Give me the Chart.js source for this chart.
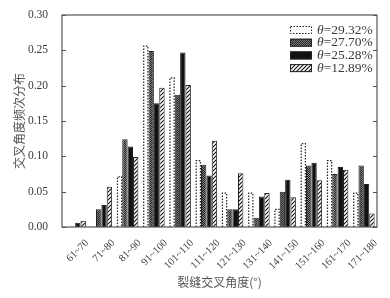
<!DOCTYPE html>
<html>
<head>
<meta charset="utf-8">
<script src="https://cdn.jsdelivr.net/npm/chart.js@4"></script>
<style>
  body { margin: 0; background: #fff; }
  canvas { display: block; }
</style>
</head>
<body>
<canvas id="grafico" width="390" height="298"></canvas>
<script>
// Datos
const categorias = ['61~70', '71~80', '81~90', '91~100', '101~110', '111~120',
                    '121~130', '131~140', '141~150', '151~160', '161~170', '171~180'];
const leyendas = ['29.32%', '27.70%', '25.28%', '12.89%'];
const serie1 = [0, 0, 0.071, 0.256, 0.211, 0.094, 0.048, 0.048, 0.025, 0.118, 0.094, 0.048];
const serie2 = [0, 0.025, 0.124, 0.249, 0.187, 0.088, 0.025, 0.013, 0.050, 0.087, 0.075, 0.087];
const serie3 = [0.006, 0.031, 0.114, 0.175, 0.247, 0.073, 0.025, 0.043, 0.067, 0.091, 0.085, 0.061];
const serie4 = [0.009, 0.057, 0.099, 0.197, 0.201, 0.122, 0.076, 0.048, 0.042, 0.066, 0.081, 0.019];
const yMax = 0.30;
const yPaso = 0.05;

// Patrones de relleno
function patronCuadros() {
    const c = document.createElement('canvas');
    c.width = 2; c.height = 2;
    const g = c.getContext('2d');
    g.fillStyle = '#262626';
    g.fillRect(0, 0, 2, 2);
    g.fillStyle = '#7a7a7a';
    g.fillRect(0, 0, 1, 1);
    g.fillRect(1, 1, 1, 1);
    return g.createPattern(c, 'repeat');
}

function patronRayas() {
    const c = document.createElement('canvas');
    c.width = 4; c.height = 4;
    const g = c.getContext('2d');
    g.fillStyle = '#fff';
    g.fillRect(0, 0, 4, 4);
    g.strokeStyle = '#111';
    g.lineWidth = 1.1;
    g.beginPath();
    g.moveTo(-1, 5); g.lineTo(5, -1);
    g.moveTo(-1, 1); g.lineTo(1, -1);
    g.moveTo(3, 5); g.lineTo(5, 3);
    g.stroke();
    return g.createPattern(c, 'repeat');
}

const ctx = document.getElementById('grafico').getContext('2d');
const rellenos = ['rgba(255,255,255,0)', patronCuadros(), '#111', patronRayas()];

// Contorno punteado de la primera serie
const bordePunteado = {
    id: 'bordePunteado',
    afterDatasetsDraw(chart) {
        const meta = chart.getDatasetMeta(0);
        const c = chart.ctx;
        c.save();
        c.strokeStyle = '#222';
        c.lineWidth = 1.2;
        c.setLineDash([1.5, 1.5]);
        meta.data.forEach((bar, i) => {
            if (!serie1[i]) return;
            const izq = bar.x - bar.width / 2 + 0.6;
            const der = bar.x + bar.width / 2 - 0.6;
            c.beginPath();
            c.moveTo(izq, bar.base);
            c.lineTo(izq, bar.y);
            c.lineTo(der, bar.y);
            c.lineTo(der, bar.base);
            c.stroke();
        });
        c.restore();
    }
};

// Marco y marcas hacia adentro
const marco = {
    id: 'marco',
    afterDraw(chart) {
        const a = chart.chartArea;
        const y = chart.scales.y;
        const c = chart.ctx;
        c.save();
        c.strokeStyle = '#555';
        c.lineWidth = 1.2;
        c.strokeRect(a.left, a.top, a.right - a.left, a.bottom - a.top);
        c.beginPath();
        for (let v = 0; v <= yMax + 1e-9; v += yPaso) {
            const py = Math.round(y.getPixelForValue(v)) + 0.5;
            c.moveTo(a.left, py); c.lineTo(a.left + 4, py);
            c.moveTo(a.right, py); c.lineTo(a.right - 4, py);
        }
        c.stroke();
        c.restore();
    }
};

// Leyenda con theta en cursiva
const leyenda = {
    id: 'leyenda',
    afterDraw(chart) {
        const a = chart.chartArea;
        const c = chart.ctx;
        c.save();
        leyendas.forEach((txt, i) => {
            const x = a.right - 87;
            const yc = a.top + 15 + i * 12.7;
            c.fillStyle = rellenos[i];
            c.fillRect(x, yc - 4, 22, 8);
            c.strokeStyle = '#222';
            c.lineWidth = 1;
            c.setLineDash(i === 0 ? [1.5, 1.5] : []);
            c.strokeRect(x + 0.5, yc - 3.5, 21, 7);
            c.setLineDash([]);
            c.fillStyle = '#3a3a3a';
            c.textBaseline = 'middle';
            c.font = 'italic 13.5px "Liberation Serif"';
            c.fillText('θ', x + 27, yc);
            const w = c.measureText('θ').width;
            c.font = '13.5px "Liberation Serif"';
            c.fillText('=' + txt, x + 27 + w, yc);
        });
        c.restore();
    }
};

const series = [serie1, serie2, serie3, serie4];

new Chart(ctx, {
    type: 'bar',
    data: {
        labels: categorias,
        datasets: series.map((s, i) => ({
            label: 'θ=' + leyendas[i],
            data: s,
            backgroundColor: rellenos[i],
            borderColor: '#222',
            borderWidth: i === 0 ? 0 : 1,
            borderSkipped: 'bottom',
            categoryPercentage: 0.82,
            barPercentage: 1
        }))
    },
    options: {
        responsive: false,
        animation: false,
        devicePixelRatio: 1,
        layout: { padding: { top: 15, right: 13, left: 0, bottom: 0 } },
        plugins: {
            legend: { display: false },
            tooltip: { enabled: false }
        },
        scales: {
            x: {
                grid: { display: false },
                border: { display: false },
                ticks: {
                    minRotation: 45,
                    maxRotation: 45,
                    labelOffset: 12,
                    padding: 2,
                    color: '#3a3a3a',
                    font: { family: '"Liberation Serif"', size: 10.5 }
                },
                title: {
                    display: true,
                    text: '裂缝交叉角度(°)',
                    color: '#555',
                    padding: { top: 0, bottom: 8 },
                    font: { family: '"Noto Sans CJK SC"', size: 12 }
                },
                afterFit: (s) => { s.height = 71; }
            },
            y: {
                min: 0,
                max: yMax,
                grid: { display: false },
                border: { display: false },
                ticks: {
                    stepSize: yPaso,
                    padding: 6,
                    color: '#3a3a3a',
                    font: { family: '"Liberation Serif"', size: 11.5 },
                    callback: (v) => v.toFixed(2)
                },
                title: {
                    display: true,
                    text: '交叉角度频次分布',
                    color: '#555',
                    padding: { top: 12, bottom: 0 },
                    font: { family: '"Noto Sans CJK SC"', size: 12 }
                },
                afterFit: (s) => { s.width = 62; }
            }
        }
    },
    plugins: [bordePunteado, marco, leyenda]
});
</script>
</body>
</html>
